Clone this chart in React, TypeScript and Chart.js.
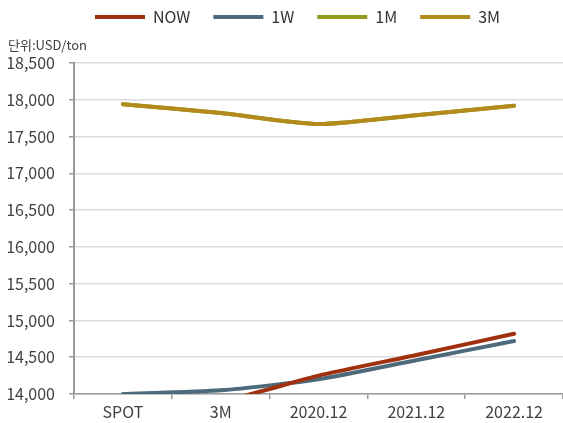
import React, { useEffect, useRef } from "react";
import { Chart, registerables } from "chart.js";

Chart.register(...registerables);

const categories = ["SPOT", "3M", "2020.12", "2021.12", "2022.12"];
const seriesNames = ["NOW", "1W", "1M", "3M"];
const nowValues = [13800, 13900, 14250, 14530, 14820];
const oneWeekValues = [14000, 14050, 14200, 14460, 14720];
const oneMonthValues = [17940, 17820, 17670, 17790, 17920];
const threeMonthValues = [17940, 17820, 17670, 17790, 17920];
const seriesColors = ["#a0300e", "#4c6a7c", "#929b1e", "#b38b1d"];
const yMin = 14000;
const yMax = 18500;
const yStep = 500;
const unitLabel = "단위:USD/ton";

const FONT = "'Noto Sans CJK KR', 'Noto Sans', sans-serif";

const legendShift = {
  id: "legendShift",
  afterLayout(chart: any) {
    if (chart.legend) {
      chart.legend.left += 12;
      chart.legend.right += 12;
    }
  },
};

export default function App() {
  const ref = useRef<HTMLCanvasElement>(null);

  useEffect(() => {
    document.body.style.margin = "0";
    const values = [nowValues, oneWeekValues, oneMonthValues, threeMonthValues];
    const chart = new Chart(ref.current!, {
      type: "line",
      data: {
        labels: categories,
        datasets: seriesNames.map((name, i) => ({
          label: name,
          data: values[i],
          borderColor: seriesColors[i],
          backgroundColor: seriesColors[i],
          borderWidth: 4,
          borderCapStyle: "round",
          pointRadius: 0,
          pointHoverRadius: 0,
          tension: 0.2,
          order: name === "1M" ? 1 : 0,
        })),
      },
      plugins: [legendShift],
      options: {
        responsive: false,
        animation: false,
        layout: { padding: { left: 8, right: 0, top: -14, bottom: -1.2 } },
        plugins: {
          legend: {
            position: "top",
            labels: {
              usePointStyle: true,
              pointStyle: "line",
              pointStyleWidth: 50,
              boxHeight: 16,
              padding: 23,
              color: "#333",
              font: { family: FONT, size: 16 },
              sort: (a: any, b: any) => a.datasetIndex - b.datasetIndex,
            },
          },
          title: {
            display: true,
            text: unitLabel,
            align: "start",
            position: "top",
            weight: 500,
            color: "#404040",
            font: { family: FONT, size: 13, weight: "normal" },
            padding: { top: 2, bottom: 10.4 },
          },
          tooltip: { enabled: false },
        },
        scales: {
          x: {
            offset: true,
            grid: {
              offset: true,
              drawOnChartArea: false,
              drawTicks: true,
              tickLength: 5,
              color: "#9a9a9a",
              lineWidth: 1.5,
            },
            border: { display: true, color: "#9a9a9a", width: 1.5 },
            ticks: {
              color: "#404040",
              padding: 3,
              maxRotation: 0,
              font: { family: FONT, size: 16 },
            },
          },
          y: {
            min: yMin,
            max: yMax,
            afterFit: (scale: any) => {
              scale.width = 66;
            },
            ticks: {
              stepSize: yStep,
              color: "#404040",
              padding: 14,
              font: { family: FONT, size: 16 },
            },
            grid: {
              color: "#dcdcdc",
              tickColor: "#9a9a9a",
              lineWidth: 1.5,
              tickLength: 5,
            },
            border: { display: true, color: "#9a9a9a", width: 2 },
          },
        },
      },
    });
    return () => chart.destroy();
  }, []);

  return (
    <div style={{ width: 563, height: 423 }}>
      <canvas ref={ref} width={563} height={423} />
    </div>
  );
}
